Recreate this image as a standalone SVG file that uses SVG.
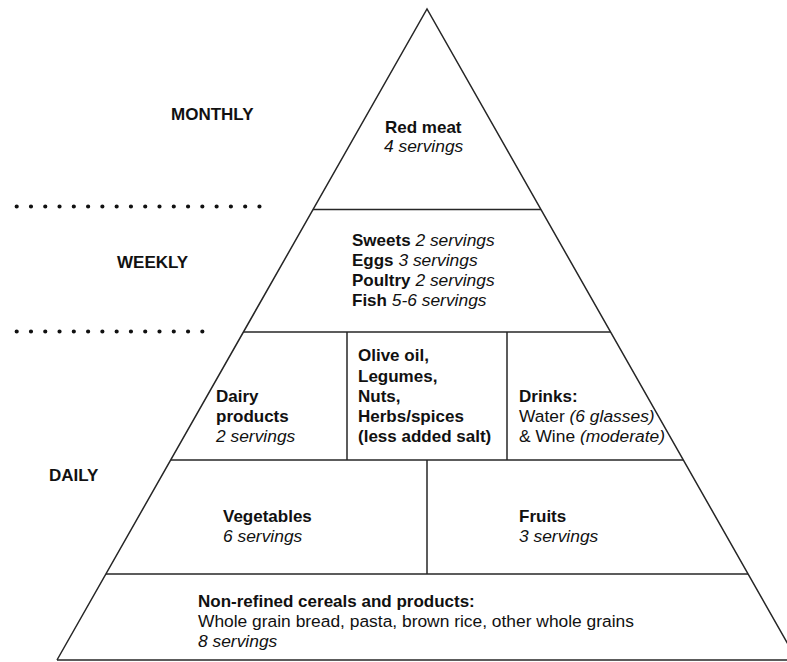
<svg xmlns="http://www.w3.org/2000/svg" width="787" height="662" viewBox="0 0 787 662">
<style>
  .ln { stroke: #262626; stroke-width: 1.5; fill: none; }
  .dots { stroke: #111; stroke-width: 4.2; stroke-linecap: round; stroke-dasharray: 0 14.28; fill: none; }
  text { font-family: "Liberation Sans", Arial, Helvetica, sans-serif; fill: #111; }
  .b { font-weight: bold; font-size: 17px; }
  .r { font-size: 17.4px; }
  .i { font-style: italic; font-size: 17.4px; }
</style>
<rect width="787" height="662" fill="#fff"/>
<g id="connectors">
  <polyline class="ln" points="57,660 427,9 797,660"/>
  <line class="ln" x1="57" y1="660" x2="787" y2="660"/>
  <line class="ln" x1="313" y1="209.5" x2="541" y2="209.5"/>
  <line class="ln" x1="243" y1="332" x2="611" y2="332"/>
  <line class="ln" x1="171" y1="460" x2="683" y2="460"/>
  <line class="ln" x1="106" y1="574" x2="748" y2="574"/>
  <line class="ln" x1="347" y1="332" x2="347" y2="460"/>
  <line class="ln" x1="507" y1="332" x2="507" y2="460"/>
  <line class="ln" x1="427" y1="460" x2="427" y2="574"/>
  <line class="dots" x1="16.7" y1="206.5" x2="259.6" y2="206.5"/>
  <line class="dots" x1="16.7" y1="331.5" x2="202.6" y2="331.5"/>
</g>
<g id="label-monthly"><text class="b" x="171" y="120">MONTHLY</text></g>
<g id="label-weekly"><text class="b" x="117" y="268">WEEKLY</text></g>
<g id="label-daily"><text class="b" x="49" y="481">DAILY</text></g>
<g id="red-meat">
  <text class="b" x="385" y="133">Red meat</text>
  <text class="i" x="384" y="152">4 servings</text>
</g>
<g id="weekly-items">
  <text x="352" y="246"><tspan class="b">Sweets</tspan><tspan class="i"> 2 servings</tspan></text>
  <text x="352" y="266"><tspan class="b">Eggs</tspan><tspan class="i"> 3 servings</tspan></text>
  <text x="352" y="286"><tspan class="b">Poultry</tspan><tspan class="i"> 2 servings</tspan></text>
  <text x="352" y="306"><tspan class="b">Fish</tspan><tspan class="i"> 5-6 servings</tspan></text>
</g>
<g id="dairy">
  <text class="b" x="216" y="402">Dairy</text>
  <text class="b" x="216" y="422">products</text>
  <text class="i" x="216" y="442">2 servings</text>
</g>
<g id="olive-oil">
  <text class="b" x="358" y="361">Olive oil,</text>
  <text class="b" x="358" y="381.5">Legumes,</text>
  <text class="b" x="358" y="402">Nuts,</text>
  <text class="b" x="358" y="422">Herbs/spices</text>
  <text class="b" x="358" y="442">(less added salt)</text>
</g>
<g id="drinks">
  <text class="b" x="519" y="402">Drinks:</text>
  <text x="519" y="422"><tspan class="r">Water </tspan><tspan class="i">(6 glasses)</tspan></text>
  <text x="519" y="442"><tspan class="r">&amp; Wine </tspan><tspan class="i">(moderate)</tspan></text>
</g>
<g id="vegetables">
  <text class="b" x="223" y="522">Vegetables</text>
  <text class="i" x="223" y="542">6 servings</text>
</g>
<g id="fruits">
  <text class="b" x="519" y="522">Fruits</text>
  <text class="i" x="519" y="542">3 servings</text>
</g>
<g id="cereals">
  <text class="b" x="198" y="607">Non-refined cereals and products:</text>
  <text class="r" x="198" y="627">Whole grain bread, pasta, brown rice, other whole grains</text>
  <text class="i" x="198" y="647">8 servings</text>
</g>
</svg>
